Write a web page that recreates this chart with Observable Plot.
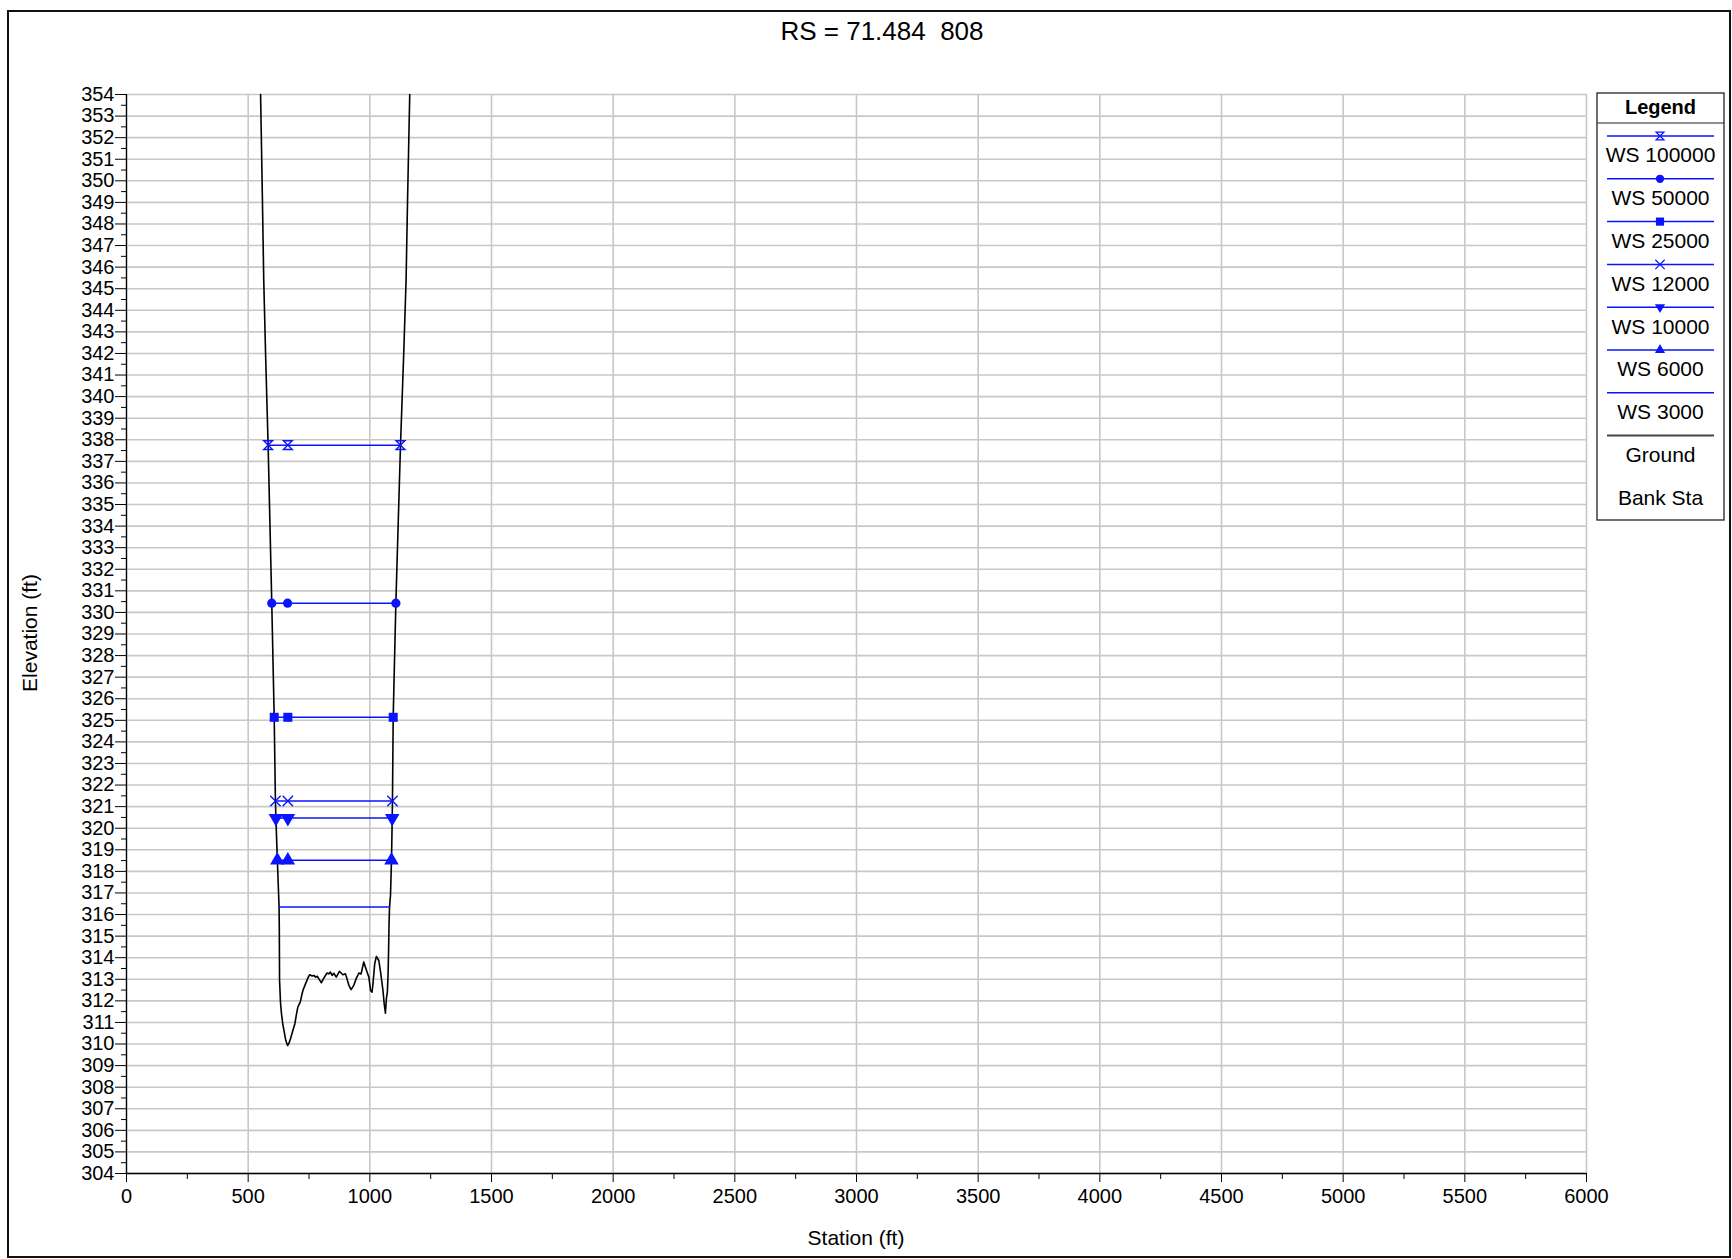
<!DOCTYPE html>
<html><head><meta charset="utf-8">
<script src="https://cdn.jsdelivr.net/npm/d3@7"></script>
<script src="https://cdn.jsdelivr.net/npm/@observablehq/plot@0.6"></script>
<style>
html,body{margin:0;padding:0;background:#fff;overflow:hidden;}
#root{position:relative;width:1732px;height:1259px;font-family:"Liberation Sans",Arial,sans-serif;color:#000;}
#frame{position:absolute;left:7px;top:10px;width:1724px;height:1248px;box-sizing:border-box;border:2px solid #111;pointer-events:none;}
#title{position:absolute;left:0;width:1764px;top:16px;text-align:center;font-size:26px;line-height:30px;white-space:pre;}
#xlabel{position:absolute;left:0;width:1712px;top:1226px;text-align:center;font-size:21px;line-height:24px;}
#ylabel{position:absolute;left:30px;top:633px;font-size:21px;line-height:24px;white-space:nowrap;transform:translate(-50%,-50%) rotate(-90deg);}
svg{position:absolute;left:0;top:0;}
</style>
</head><body>
<div id="root">
  <div id="title">RS = 71.484  808</div>
  <div id="xlabel">Station (ft)</div>
  <div id="ylabel">Elevation (ft)</div>
  <div id="frame"></div>
</div>
<script>
// ---------------- data ----------------
const seriesNames = ["WS 100000","WS 50000","WS 25000","WS 12000","WS 10000","WS 6000","WS 3000"];
const wsElevation = [337.75, 330.43, 325.14, 321.26, 320.47, 318.51, 316.35];
const wsLeftStation = [582, 597, 607, 612, 614, 620, 627];
const wsMidStation = [663, 662, 663, 663, 663, 663, null];
const wsRightStation = [1126, 1107, 1096, 1093, 1092, 1089, 1081];
const markerKinds = ["hourglass","circle","square","times","triangle-down","triangle",null];

const groundStation = [551,558,564,572,582,597,607,612,614,620,627,628,629,633,637,642,647,655,662,668,674,683,692,698,704,714,720,725,736,747,753,763,771,777,784,790,801,811,824,831,838,845,852,862,875,889,900,904,914,923,934,944,955,964,975,982,989,996,1003,1009,1013,1020,1027,1037,1045,1054,1059,1064,1068,1072,1075,1077,1079,1081,1085,1089,1092,1093,1096,1107,1126,1139,1149,1155,1164];
const groundElevation = [354,349.5,345.4,341.8,337.75,330.43,325.14,321.26,320.47,318.51,316.35,315.3,312.95,311.9,311.4,310.95,310.63,310.15,309.93,310.05,310.24,310.6,310.94,311.35,311.71,311.94,312.25,312.48,312.8,313.1,313.21,313.15,313.18,313.1,313.14,313.03,312.84,313.05,313.29,313.25,313.33,313.18,313.28,313.1,313.37,313.21,313.25,313.1,312.72,312.52,312.72,313.03,313.29,313.25,313.8,313.56,313.33,313.1,312.48,312.4,312.8,313.72,314.06,313.87,313.26,312.48,311.87,311.43,312.1,312.4,313.26,314.3,315.6,316.35,316.9,318.51,320.47,321.26,325.14,330.43,337.75,341.9,345.4,349.1,354];

const xTickValues = [0,500,1000,1500,2000,2500,3000,3500,4000,4500,5000,5500,6000];
const xMinorTicks = [250,750,1250,1750,2250,2750,3250,3750,4250,4750,5250,5750];
const yTickValues = d3.range(304, 355);
const yMinorTicks = d3.range(304.5, 354, 1);
const legendLabels = ["WS 100000","WS 50000","WS 25000","WS 12000","WS 10000","WS 6000","WS 3000","Ground","Bank Sta"];

// ---------------- build ----------------
const WS_COLOR = "#0a14ff";
const hourglass = {draw(ctx, size){const r = Math.sqrt(size/Math.PI); ctx.moveTo(-r,-r); ctx.lineTo(r,-r); ctx.lineTo(-r,r); ctx.lineTo(r,r); ctx.closePath();}};
const plotSymbol = {hourglass: hourglass, circle: "circle", square: "square", times: "times", "triangle-down": "triangle", triangle: "triangle"};
const filledKinds = new Set(["circle","square","triangle","triangle-down"]);
const markerR = {hourglass: 4.4, circle: 4.6, square: 5.1, times: 4.8, "triangle-down": 5.4, triangle: 5.4};

const ground = groundStation.map((s,i)=>({st:s, elev:groundElevation[i]}));
const wsLines = seriesNames.flatMap((name,i)=>[
  {series:name, st:wsLeftStation[i], elev:wsElevation[i]},
  {series:name, st:wsRightStation[i], elev:wsElevation[i]}
]);

const markerMarks = seriesNames.map((name,i)=>{
  const kind = markerKinds[i];
  if (!kind) return null;
  const pts = [wsLeftStation[i], wsMidStation[i], wsRightStation[i]].filter(v=>v!=null).map(s=>({st:s, elev:wsElevation[i]}));
  const filled = filledKinds.has(kind);
  return Plot.dot(pts, {
    x:"st", y:"elev", symbol: plotSymbol[kind], r: markerR[kind],
    fill: filled ? WS_COLOR : "none", stroke: WS_COLOR, strokeWidth: filled?0:1.4,
    rotate: kind==="triangle-down"?180:0
  });
}).filter(Boolean);

const chart = Plot.plot({
  width: 1732, height: 1259,
  marginLeft: 126, marginRight: 146, marginTop: 94, marginBottom: 86,
  x: {domain: [0, 6000]},
  y: {domain: [304, 354]},
  style: {fontFamily: "'Liberation Sans', Arial, sans-serif", fontSize: "20px", background: "transparent", color: "#000", overflow: "visible"},
  marks: [
    Plot.gridY(yTickValues, {stroke: "#c8c8c8", strokeOpacity: 1, strokeWidth: 1.6}),
    Plot.gridX(xTickValues, {stroke: "#c8c8c8", strokeOpacity: 1, strokeWidth: 1.6}),
    Plot.axisY(yTickValues, {tickSize: 11, tickPadding: 1, fontSize: 20, label: null}),
    Plot.axisY(yMinorTicks, {tickSize: 5, tickFormat: () => "", label: null}),
    Plot.axisX(xTickValues, {tickSize: 9, tickPadding: 6, fontSize: 20, label: null, tickFormat: d => String(d)}),
    Plot.axisX(xMinorTicks, {tickSize: 6, tickFormat: () => "", label: null}),
    Plot.ruleX([0], {stroke: "#000", strokeWidth: 1.3}),
    Plot.ruleY([304], {stroke: "#000", strokeWidth: 1.3}),
    Plot.line(ground, {x:"st", y:"elev", stroke:"#000", strokeWidth: 1.6, curve: "linear"}),
    Plot.line(wsLines, {x:"st", y:"elev", z:"series", stroke: WS_COLOR, strokeWidth: 1.5}),
    ...markerMarks
  ]
});
document.getElementById("root").insertBefore(chart, document.getElementById("frame"));

// ---------------- legend ----------------
const d3Sym = {hourglass: hourglass, circle: d3.symbolCircle, square: d3.symbolSquare, times: d3.symbolTimes, "triangle-down": d3.symbolTriangle2, triangle: d3.symbolTriangle2};
const LX = 1597, LY = 93, LW = 127, LH = 427;
const leg = d3.select("#root").append("svg")
  .attr("width", LW+2).attr("height", LH+2)
  .style("left", (LX-1)+"px").style("top", (LY-1)+"px")
  .style("font-family", "'Liberation Sans', Arial, sans-serif");
const g = leg.append("g").attr("transform","translate(1,1)");
g.append("rect").attr("width", LW).attr("height", LH).attr("fill","#fff").attr("stroke","#222").attr("stroke-width",1.3);
g.append("text").attr("x", LW/2).attr("y", 14).attr("dy","0.35em").attr("text-anchor","middle").attr("font-size",20).attr("font-weight","bold").text("Legend");
g.append("line").attr("x1",0).attr("x2",LW).attr("y1",30).attr("y2",30).attr("stroke","#222").attr("stroke-width",1.2);
legendLabels.forEach((lab,i)=>{
  const ly = 43 + i*42.8, ty = 62 + i*42.8;
  const isWS = i < seriesNames.length;
  if (isWS || lab === "Ground") {
    g.append("line").attr("x1",10).attr("x2",117).attr("y1",ly).attr("y2",ly)
      .attr("stroke", isWS ? WS_COLOR : "#444").attr("stroke-width", isWS?1.5:2);
  }
  if (isWS && markerKinds[i]) {
    const kind = markerKinds[i];
    const filled = filledKinds.has(kind);
    const r = markerR[kind] * 0.9;
    g.append("path").attr("d", d3.symbol(d3Sym[kind], Math.PI*r*r)())
      .attr("transform", `translate(63,${ly})` + (kind==="triangle-down"?" rotate(180)":""))
      .attr("fill", filled?WS_COLOR:"none").attr("stroke", WS_COLOR).attr("stroke-width", filled?0:1.2);
  }
  g.append("text").attr("x", LW/2).attr("y", ty).attr("dy","0.35em").attr("text-anchor","middle").attr("font-size",21).text(lab);
});
</script>
</body></html>
